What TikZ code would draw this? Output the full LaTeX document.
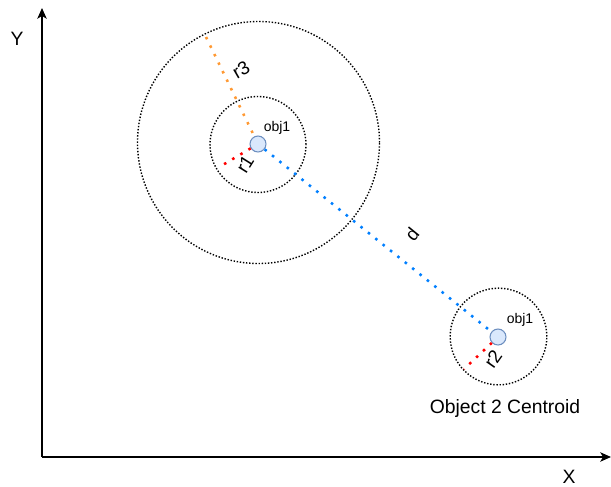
\documentclass[tikz,border=0pt]{standalone}
\usepackage{fontspec}
\setmainfont{Liberation Sans}
\usetikzlibrary{arrows.meta}
\definecolor{dblue}{RGB}{0,127,255}
\definecolor{dorange}{RGB}{255,153,51}
\definecolor{dred}{RGB}{255,0,0}
\definecolor{objfill}{RGB}{218,232,252}
\definecolor{objdraw}{RGB}{108,142,191}
\tikzset{
  axis/.style={line width=1.1pt, -{Stealth[length=8pt,width=7pt,inset=2pt]}},
  ring/.style={draw, line width=1.05pt, dash pattern=on 1.05pt off 1.3pt},
  obj/.style={circle, draw=objdraw, fill=objfill, line width=0.8pt, minimum size=12pt, inner sep=0pt},
  dotline/.style={line width=1.9pt, dash pattern=on 1.9pt off 5.2pt},
  lab/.style={font=\fontsize{14}{16}\selectfont, inner sep=1pt},
  big/.style={font=\fontsize{14.5}{16}\selectfont, inner sep=1pt},
  small/.style={font=\fontsize{10.5}{12}\selectfont, inner sep=1pt},
}
\begin{document}
\begin{tikzpicture}[x=0.75pt,y=-0.75pt]
\useasboundingbox (0,0) rectangle (611,486);
% axes
\coordinate (orig) at (42,457);
\coordinate (ytip) at (42,8);
\coordinate (xtip) at (611,457);
\draw[axis] (orig) -- (ytip);
\draw[axis] (orig) -- (xtip);
\node[big] (ylab) at (17,39) {Y};
\node[big] (xlab) at (569,477) {X};
% rings
\node[ring, circle, minimum size=181.5pt, inner sep=0pt] (outer) at (258.5,142.5) {};
\node[ring, circle, minimum size=72pt, inner sep=0pt] (inner1) at (258,144.5) {};
\node[ring, circle, minimum size=72.5pt, inner sep=0pt] (inner2) at (498.5,336.5) {};
% endpoints
\coordinate (r3end) at (206,37);
\coordinate (r1end) at (221,166);
\coordinate (r2end) at (464,369);
% objects
\node[obj] (o1) at (258,144) {};
\node[obj] (o2) at (498,337) {};
% lines
\draw[dotline, dorange] (r3end) -- (o1);
\draw[dotline, dred] (o1) -- (r1end);
\draw[dotline, dblue] (o1) -- (o2);
\draw[dotline, dred] (o2) -- (r2end);
% labels
\node[lab, rotate=30] (r3lab) at (241,70) {r3};
\node[lab, rotate=58] (r1lab) at (245,164) {r1};
\node[lab, rotate=51] (dlab) at (412,234) {d};
\node[lab, rotate=55] (r2lab) at (493,359) {r2};
\node[small] (ob1) at (277,128) {obj1};
\node[small] (ob2) at (520,320) {obj1};
\node[big] (cent) at (505,408) {Object 2 Centroid};
\end{tikzpicture}
\end{document}
